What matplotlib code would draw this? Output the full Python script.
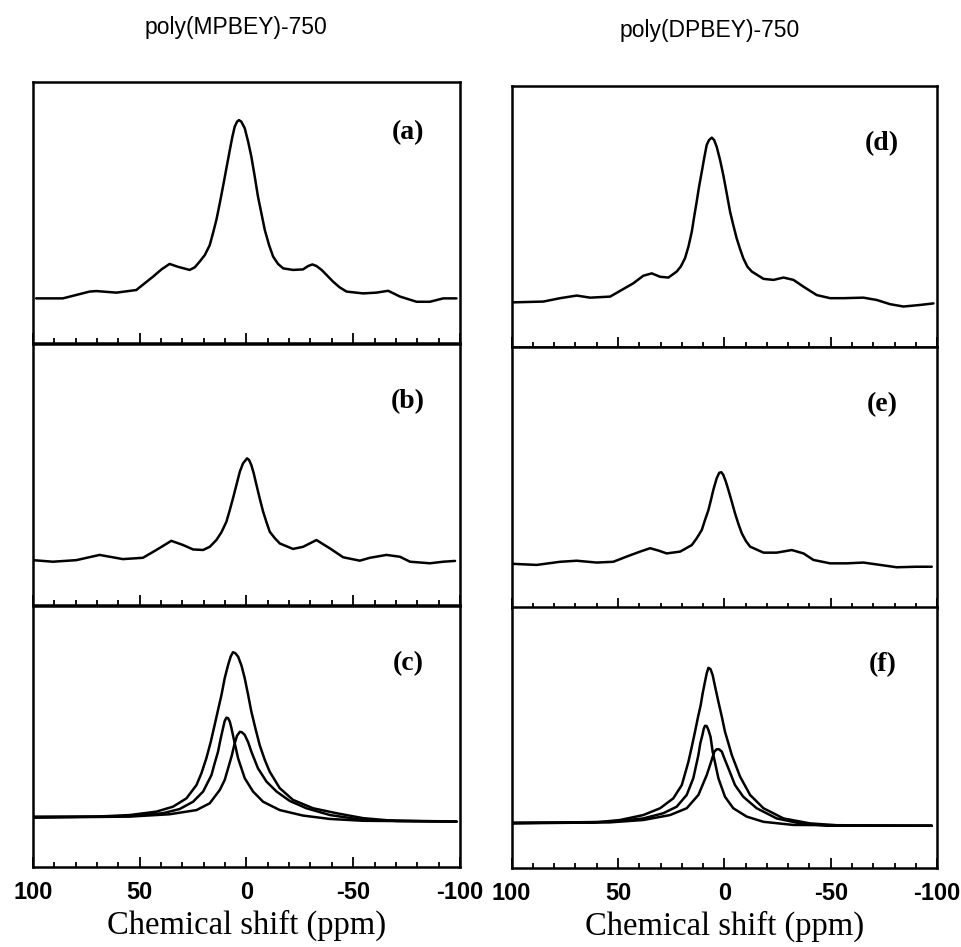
import numpy as np
import matplotlib
matplotlib.use("Agg")
import matplotlib.pyplot as plt
from matplotlib.ticker import MultipleLocator, FixedLocator

# ---------------------------------------------------------------
# traced spectra (chemical shift in ppm, intensity in a.u.)
# ---------------------------------------------------------------
ppm_a = [98.5, 86.0, 73.5, 70.3, 60.9, 51.6, 43.8, 39.8, 36.0, 32.1, 26.6, 24.2, 21.9,
         19.5, 17.2, 15.7, 14.1, 12.5, 11.0, 9.4, 7.8, 6.6, 5.5, 4.4, 3.5, 2.4, 0.8,
         -0.8, -2.3, -3.9, -5.4, -7.0, -8.6, -10.6, -12.5, -14.8, -17.2, -21.8, -26.5,
         -28.9, -30.9, -32.8, -35.2, -37.5, -40.6, -43.7, -46.9, -54.7, -60.9, -66.4,
         -71.9, -79.7, -85.9, -92.2, -98.4]
int_a = [17.1, 17.1, 19.7, 19.9, 19.3, 20.3, 25.4, 28.2, 30.3, 29.2, 28.0, 29.0, 31.2,
         33.7, 37.5, 42.0, 47.1, 53.5, 59.9, 66.9, 73.9, 79.0, 82.9, 84.8, 85.4, 84.8, 82.3,
         77.1, 71.4, 63.7, 56.1, 49.7, 43.3, 37.5, 33.1, 30.3, 28.6, 28.0, 28.2,
         29.5, 30.1, 29.5, 28.0, 26.1, 23.5, 21.3, 19.7, 19.0, 19.3, 20.0,
         17.8, 15.8, 15.8, 17.1, 17.1]

ppm_b = [100.0, 90.7, 79.7, 68.8, 57.9, 48.5, 42.2, 35.2, 29.7, 25.0, 20.3, 17.2, 14.1,
         11.7, 9.4, 7.8, 6.3, 4.7, 3.1, 1.6, -0.3, -1.2, -2.3, -3.4, -4.7, -6.2, -7.8,
         -9.4, -10.9, -13.3, -15.6, -21.8, -26.5, -32.8, -39.1, -45.3, -53.1, -57.8,
         -65.6, -71.9, -76.6, -85.9, -92.2, -97.7]
int_b = [17.2, 16.6, 17.2, 19.2, 17.6, 18.1, 21.1, 24.6, 23.0, 21.3, 21.1, 22.3, 24.9,
         27.9, 31.9, 36.4, 40.9, 46.0, 51.1, 54.3, 56.2, 55.6, 53.6, 50.5, 46.0, 40.9, 35.8,
         31.7, 28.1, 25.6, 23.6, 21.5, 22.3, 24.9, 21.7, 18.3, 17.0, 18.1,
         19.2, 18.5, 16.6, 16.0, 16.6, 16.9]

# deconvolution of (b): envelope and two components
ppm_c_env = [100.0, 70.3, 54.7, 42.2, 34.4, 28.1, 23.4, 21.1, 18.8, 16.7, 14.9, 13.3,
             11.7, 10.2, 8.6, 7.4, 6.3, 5.2, 3.9, 2.3, 0.8, -0.8, -2.3, -4.2, -6.2, -8.6,
             -10.9, -15.6, -21.8, -31.2, -42.2, -54.7, -70.3, -98.4]
int_c_env = [19.3, 19.3, 19.9, 21.2, 23.1, 26.3, 31.4, 35.9, 41.6, 48.0, 54.4, 60.2,
             65.9, 72.3, 77.4, 80.6, 82.3, 81.9, 80.6, 77.1, 72.3, 65.9, 59.5, 53.1, 46.7, 41.0,
             36.5, 30.2, 25.7, 22.5, 20.6, 18.7, 17.6, 17.4]
ppm_c_1 = [100.0, 54.7, 39.1, 31.3, 25.0, 20.3, 16.4, 14.9, 13.3, 12.2, 11.0, 10.2, 9.4,
           8.6, 7.8, 7.0, 6.0, 3.9, 0.8, -3.1, -7.8, -15.6, -26.5, -39.1, -54.7, -98.4]
int_c_1 = [19.0, 19.5, 20.6, 22.2, 25.0, 28.9, 35.2, 39.7, 44.2, 48.7, 53.1, 55.9, 57.2,
           57.0, 55.7, 53.1, 49.3, 41.6, 34.0, 28.9, 25.0, 21.8, 19.7, 18.4, 17.7, 17.4]
ppm_c_2 = [100.0, 54.7, 36.0, 23.4, 17.2, 12.5, 10.2, 8.6, 7.0, 5.5, 4.4, 3.1, 2.1, 0.8,
           -0.8, -2.3, -5.4, -9.4, -14.1, -20.3, -28.1, -39.1, -54.7, -98.4]
int_c_2 = [18.9, 19.3, 20.2, 21.8, 24.4, 29.5, 33.3, 37.8, 42.3, 47.4, 50.3, 51.8, 51.6, 50.6,
           47.8, 44.2, 37.8, 32.7, 28.9, 25.3, 22.5, 19.9, 18.0, 17.4]

ppm_d = [99.2, 85.1, 77.2, 69.4, 63.1, 53.7, 49.0, 42.8, 38.1, 34.1, 30.2, 26.3, 22.4,
         20.5, 18.5, 16.9, 15.3, 14.2, 13.0, 11.9, 10.6, 9.5, 8.3, 7.2, 5.9, 4.8, 3.6,
         2.0, 0.5, -1.1, -2.7, -4.2, -5.8, -7.4, -8.9, -10.8, -12.9, -18.4, -23.1,
         -27.8, -32.5, -37.2, -43.4, -49.7, -56.0, -65.4, -71.7, -77.9, -84.2, -92.0, -98.3]
int_d = [17.1, 17.4, 18.7, 19.7, 18.9, 19.3, 21.5, 24.4, 27.3, 28.2, 26.9, 26.6, 28.9,
         30.8, 34.0, 38.4, 44.2, 49.9, 55.7, 61.4, 67.2, 72.3, 77.4, 79.3, 80.2, 79.3, 76.7,
         71.6, 65.9, 58.9, 51.8, 46.7, 41.6, 37.5, 34.0, 30.8, 28.9, 26.1, 25.7,
         26.6, 25.7, 23.1, 19.9, 18.7, 18.7, 18.9, 18.0, 16.4, 15.5, 16.1, 16.7]

ppm_e = [99.2, 88.2, 77.2, 69.4, 60.0, 52.2, 45.9, 39.6, 34.9, 31.0, 27.1, 20.8, 15.3,
         13.0, 10.6, 9.1, 7.5, 6.3, 5.2, 3.6, 2.4, 1.4, 0.5, -0.7, -1.9, -3.5, -5.0,
         -6.6, -8.2, -10.1, -12.1, -18.4, -24.6, -31.7, -37.2, -41.9, -49.7, -57.5,
         -65.4, -73.2, -81.0, -90.4, -97.5]
int_e = [16.9, 16.5, 17.7, 18.1, 17.4, 17.7, 19.7, 21.6, 22.9, 22.0, 20.9, 21.6, 24.1,
         26.7, 29.9, 33.7, 37.5, 41.4, 45.2, 49.7, 51.8, 52.0, 51.0, 48.4, 45.2, 40.7, 36.3,
         32.2, 28.6, 25.7, 23.5, 21.2, 21.2, 22.2, 20.9, 18.4, 17.1, 17.1,
         17.4, 16.5, 15.6, 15.8, 15.8]

# deconvolution of (e)
ppm_f_env = [99.2, 61.6, 49.0, 38.1, 30.2, 24.0, 20.0, 16.9, 15.3, 13.8, 12.5, 11.1, 10.2,
             9.1, 8.3, 7.5, 6.5, 5.5, 4.2, 2.8, 1.2, -0.3, -1.9, -3.5, -7.4, -12.1, -18.4,
             -27.8, -40.3, -56.0, -97.5]
int_f_env = [17.4, 17.4, 18.4, 20.3, 22.9, 26.7, 31.8, 40.7, 46.5, 52.2, 57.4, 62.5, 66.9,
             71.4, 74.6, 76.7, 76.2, 73.9, 68.9, 63.7, 58.0, 52.2, 47.8, 43.3, 35.0, 28.0, 22.9,
             19.0, 17.1, 16.2, 16.2]
ppm_f_1 = [99.2, 53.7, 38.1, 28.7, 22.4, 17.7, 14.6, 12.2, 11.3, 10.3, 9.7, 9.1, 8.3, 7.5,
           6.5, 5.5, 2.8, -0.3, -4.2, -10.5, -18.4, -32.5, -97.5]
int_f_1 = [17.2, 17.7, 19.0, 21.0, 23.5, 28.0, 34.4, 43.3, 47.8, 51.0, 53.3, 54.5, 54.4, 52.9,
           50.3, 44.6, 34.4, 27.3, 22.9, 19.7, 17.7, 16.5, 16.2]
ppm_f_2 = [99.2, 53.7, 38.1, 25.5, 17.7, 12.2, 8.3, 6.7, 5.5, 4.7, 3.6, 2.5, 1.2, -0.3,
           -1.9, -5.0, -8.9, -15.2, -24.6, -35.6, -48.1, -97.5]
int_f_2 = [17.1, 17.5, 18.4, 20.3, 22.9, 28.0, 35.6, 39.5, 42.6, 44.6, 45.5, 45.5, 44.6, 41.4,
           38.2, 31.8, 27.3, 22.9, 19.0, 17.1, 16.2, 16.2]

column_titles = ["poly(MPBEY)-750", "poly(DPBEY)-750"]
panel_tags = ["(a)", "(b)", "(c)", "(d)", "(e)", "(f)"]
tick_values = [100, 50, 0, -50, -100]
tick_labels = ["100", "50", "0", "-50", "-100"]

# ---------------------------------------------------------------
fig = plt.figure(figsize=(9.61, 9.47), dpi=100)

col_left = [0.0343, 0.5324]
col_width = [0.4443, 0.4427]
row_bottom = [[0.6378, 0.3611, 0.0845], [0.6336, 0.3580, 0.0834]]
row_height = 0.2756

spectra = [
    [[(ppm_a, int_a)], [(ppm_b, int_b)],
     [(ppm_c_env, int_c_env), (ppm_c_1, int_c_1), (ppm_c_2, int_c_2)]],
    [[(ppm_d, int_d)], [(ppm_e, int_e)],
     [(ppm_f_env, int_f_env), (ppm_f_1, int_f_1), (ppm_f_2, int_f_2)]],
]
tag_y = [[0.805, 0.78, 0.78], [0.78, 0.78, 0.78]]
tag_x = [0.878, 0.871]

for c in range(2):
    for r in range(3):
        ax = fig.add_axes([col_left[c], row_bottom[c][r], col_width[c], row_height])
        for x, y in spectra[c][r]:
            ax.plot(x, y, color='black', lw=1.8, solid_joinstyle='round',
                    solid_capstyle='round')
        ax.set_xlim(100, -100)
        ax.set_ylim(0, 100)
        ax.set_yticks([])
        for s in ax.spines.values():
            s.set_linewidth(1.8)
        ax.xaxis.set_major_locator(FixedLocator(tick_values))
        ax.xaxis.set_minor_locator(MultipleLocator(10))
        ax.tick_params(axis='x', which='major', direction='in', length=7, width=1.3, pad=10)
        ax.tick_params(axis='x', which='minor', direction='in', length=3.5, width=1.3)
        if r == 2:
            ax.set_xticklabels(tick_labels, fontsize=17, fontweight='bold',
                               family='Liberation Sans')
            ax.set_xlabel("Chemical shift (ppm)", family='Liberation Serif',
                          fontsize=23.5, labelpad=4)
        else:
            ax.set_xticklabels([])
        ax.text(tag_x[c], tag_y[c][r], panel_tags[3 * c + r], transform=ax.transAxes,
                ha='center', va='center', family='Liberation Serif',
                fontweight='bold', fontsize=20)

fig.text(0.245, 0.971, column_titles[0], ha='center', va='center',
         family='Liberation Sans', fontsize=16.5)
fig.text(0.739, 0.968, column_titles[1], ha='center', va='center',
         family='Liberation Sans', fontsize=16.5)

fig.savefig("out.png", dpi=100, facecolor='white')
